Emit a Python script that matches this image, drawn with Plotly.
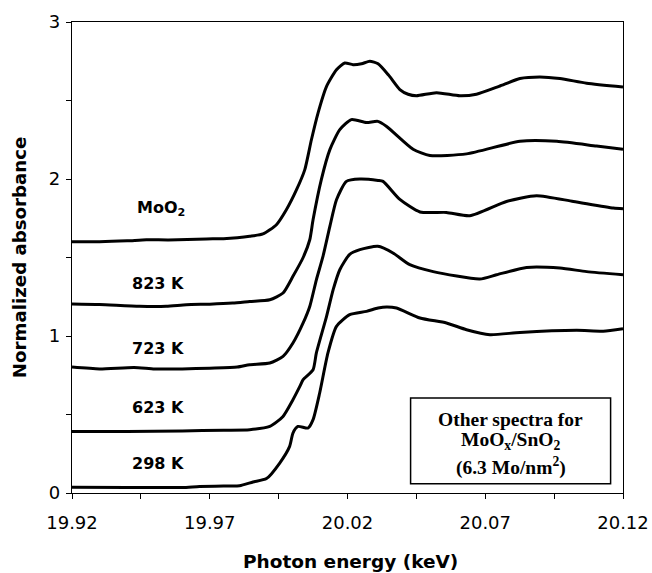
import plotly.graph_objects as go

# ---- data ----
moo2_x = [19.92, 19.93, 19.94, 19.947, 19.955, 19.9688, 19.975, 19.98, 19.9845, 19.9893, 19.9942, 19.9978,
          20.0015, 20.0045, 20.0069, 20.0093, 20.0124, 20.016, 20.019, 20.022, 20.0251, 20.0281, 20.0311,
          20.035, 20.039, 20.042, 20.045, 20.0523, 20.0608, 20.0668, 20.075, 20.0826, 20.0898, 20.0971,
          20.1068, 20.12]
moo2_y = [1.600, 1.600, 1.606, 1.613, 1.612, 1.618, 1.620, 1.626, 1.635, 1.650, 1.709, 1.804,
          1.932, 2.060, 2.250, 2.420, 2.590, 2.696, 2.739, 2.728, 2.734, 2.750, 2.734,
          2.660, 2.570, 2.540, 2.530, 2.550, 2.530, 2.540, 2.590, 2.640, 2.650, 2.640,
          2.610, 2.586]

k823_x = [19.92, 19.93, 19.9445, 19.9542, 19.9615, 19.97, 19.9783, 19.9845, 19.9918, 19.9966, 20.0002,
          20.0039, 20.0063, 20.0075, 20.0105, 20.0136, 20.0172, 20.0214, 20.0269, 20.031, 20.0342,
          20.0438, 20.0499, 20.0632, 20.0826, 20.096, 20.1104, 20.12]
k823_y = [1.204, 1.200, 1.189, 1.189, 1.199, 1.203, 1.210, 1.220, 1.231, 1.274, 1.380,
          1.500, 1.613, 1.740, 1.996, 2.187, 2.314, 2.378, 2.360, 2.367, 2.335,
          2.190, 2.150, 2.160, 2.240, 2.240, 2.210, 2.190]

k723_x = [19.92, 19.93, 19.9425, 19.95, 19.96, 19.97, 19.98, 19.9845, 19.9918, 19.9966, 20.0002,
          20.0039, 20.0063, 20.0087, 20.0111, 20.0136, 20.016, 20.0196, 20.0245, 20.0311, 20.0329,
          20.039, 20.0463, 20.0559, 20.0644, 20.0777, 20.0886, 20.102, 20.1165, 20.12]
k723_y = [0.802, 0.790, 0.800, 0.790, 0.790, 0.795, 0.802, 0.817, 0.828, 0.870, 0.955,
          1.083, 1.188, 1.358, 1.507, 1.698, 1.868, 1.985, 2.000, 1.991, 1.985,
          1.870, 1.790, 1.787, 1.766, 1.857, 1.894, 1.857, 1.815, 1.810]

k623_x = [19.92, 19.94, 19.96, 19.975, 19.9845, 19.9918, 19.9966, 20.0002, 20.0027, 20.0039, 20.0075,
          20.0087, 20.0124, 20.0148, 20.0172, 20.0208, 20.0245, 20.031, 20.0365, 20.0426, 20.0511,
          20.068, 20.0741, 20.085, 20.0971, 20.1068, 20.12]
k623_y = [0.392, 0.392, 0.395, 0.400, 0.403, 0.424, 0.488, 0.594, 0.679, 0.722, 0.785,
          0.892, 1.125, 1.295, 1.422, 1.520, 1.550, 1.571, 1.529, 1.454, 1.410,
          1.363, 1.390, 1.437, 1.433, 1.410, 1.390]

k298_x = [19.92, 19.94, 19.96, 19.9663, 19.975, 19.9808, 19.9857, 19.9906, 19.9954, 19.999, 20.0002,
          20.002, 20.0057, 20.0075, 20.0099, 20.0129, 20.016, 20.0208, 20.0269, 20.0311, 20.0342,
          20.0378, 20.0463, 20.0559, 20.0632, 20.0717, 20.0826, 20.1032, 20.1128, 20.12]
k298_y = [0.036, 0.035, 0.035, 0.042, 0.045, 0.046, 0.070, 0.092, 0.191, 0.297, 0.382,
          0.424, 0.414, 0.467, 0.637, 0.892, 1.061, 1.136, 1.157, 1.178, 1.185,
          1.178, 1.115, 1.083, 1.040, 1.008, 1.023, 1.036, 1.030, 1.046]

x_ticks = [19.92, 19.97, 20.02, 20.07, 20.12]
x_tick_text = ["19.92", "19.97", "20.02", "20.07", "20.12"]
y_ticks = [0, 1, 2, 3]

series_labels = ["MoO<sub>2</sub>", "823 K", "723 K", "623 K", "298 K"]
label_x = [19.9524, 19.9511, 19.9511, 19.9511, 19.9511]
label_y = [1.815, 1.333, 0.920, 0.547, 0.186]

box_lines = ["Other spectra for", "MoO<sub>x</sub>/SnO<sub>2</sub>", "(6.3 Mo/nm<sup>2</sup>)"]
box_line_y = [0.469, 0.329, 0.172]

fig = go.Figure()
for xs, ys in [(moo2_x, moo2_y), (k823_x, k823_y), (k723_x, k723_y), (k623_x, k623_y), (k298_x, k298_y)]:
    fig.add_trace(go.Scatter(x=xs, y=ys, mode="lines",
                             line=dict(color="black", width=3, shape="spline", smoothing=0.6),
                             showlegend=False, hoverinfo="skip"))

sans = "DejaVu Sans, Arial, sans-serif"
serif = "Liberation Serif, Times New Roman, serif"

annotations = []
for t, lx, ly in zip(series_labels, label_x, label_y):
    annotations.append(dict(x=lx, y=ly, xref="x", yref="y", text="<b>" + t + "</b>", showarrow=False,
                            font=dict(family=sans, size=16, color="black"), xanchor="center", yanchor="middle"))
box_cx = 20.0792
for t, ly in zip(box_lines, box_line_y):
    annotations.append(dict(x=box_cx, y=ly, xref="x", yref="y", text="<b>" + t + "</b>", showarrow=False,
                            font=dict(family=serif, size=19.5, color="black"), xanchor="center", yanchor="middle"))
annotations.append(dict(x=0.505, y=-0.145, xref="paper", yref="paper", text="<b>Photon energy (keV)</b>",
                        showarrow=False, font=dict(family=sans, size=18.5, color="black"),
                        xanchor="center", yanchor="middle"))
annotations.append(dict(x=-0.095, y=0.5, xref="paper", yref="paper", text="<b>Normalized absorbance</b>",
                        showarrow=False, textangle=-90, font=dict(family=sans, size=18.2, color="black"),
                        xanchor="center", yanchor="middle"))

fig.update_layout(
    width=652, height=573,
    margin=dict(l=72, r=29, t=22, b=80, autoexpand=False),
    paper_bgcolor="white", plot_bgcolor="white",
    annotations=annotations,
    shapes=[dict(type="rect", xref="x", yref="y", x0=20.0429, x1=20.1155, y0=0.059, y1=0.605,
                 line=dict(color="black", width=1.5), fillcolor="white", layer="below")],
)
fig.update_xaxes(range=[19.92, 20.12], tickmode="array", tickvals=x_ticks, ticktext=x_tick_text,
                 automargin=False,
                 ticks="outside", ticklen=5, tickwidth=1, tickcolor="black",
                 minor=dict(ticks="outside", ticklen=5, tickwidth=1, tickcolor="black", dtick=0.025, tick0=19.92),
                 showline=True, linecolor="black", linewidth=1.3, mirror=True, showgrid=False, zeroline=False,
                 tickfont=dict(family=sans, size=18, color="black"), ticklabelstandoff=8)
fig.update_yaxes(range=[0, 3], tickmode="array", tickvals=y_ticks,
                 automargin=False,
                 ticks="outside", ticklen=5, tickwidth=1, tickcolor="black",
                 minor=dict(ticks="outside", ticklen=5, tickwidth=1, tickcolor="black", dtick=0.5, tick0=0),
                 showline=True, linecolor="black", linewidth=1.3, mirror=True, showgrid=False, zeroline=False,
                 tickfont=dict(family=sans, size=18, color="black"), ticklabelstandoff=2)

fig.write_html("out.html")
